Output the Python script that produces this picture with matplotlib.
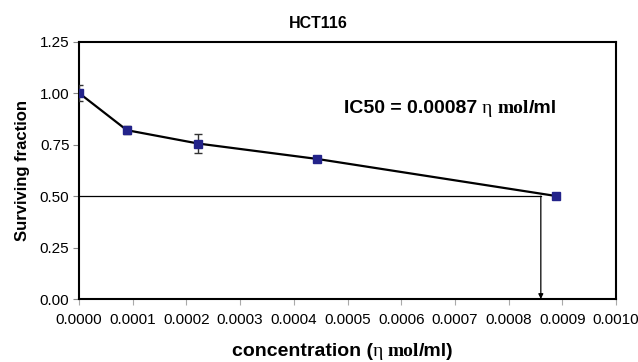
import matplotlib
matplotlib.use("Agg")
import matplotlib.pyplot as plt
from matplotlib.offsetbox import TextArea, HPacker, AnnotationBbox

# Data
conc = [0.0, 0.0000889, 0.000222, 0.000444, 0.000889]
surv = [1.00, 0.82, 0.755, 0.68, 0.50]
err = [0.04, 0.02, 0.045, 0.01, 0.012]
ic50_x = 0.00086
ic50_y = 0.50
xticks = [i * 0.0001 for i in range(11)]
yticks = [0.0, 0.25, 0.5, 0.75, 1.0, 1.25]

plt.rcParams['font.family'] = ['Liberation Sans', 'DejaVu Sans']

fig = plt.figure(figsize=(6.38, 3.62), dpi=100)
ax = fig.add_axes([0.124, 0.174, 0.8415, 0.711])

ax.plot([0, ic50_x], [ic50_y, ic50_y], color='black', lw=0.9, zorder=2)
ax.annotate('', xy=(ic50_x, 0.0), xytext=(ic50_x, ic50_y),
            arrowprops=dict(arrowstyle='-|>', color='black', lw=0.9,
                            mutation_scale=7, shrinkA=0, shrinkB=0), zorder=2)

ax.errorbar(conc, surv, yerr=err, color='black', lw=1.6, ecolor='#333333',
            elinewidth=1.0, capsize=3, capthick=1.0, marker='s', ms=6,
            mfc='#23238a', mec='#23238a', zorder=3)

ax.set_xlim(0, 0.001)
ax.set_ylim(0, 1.25)
ax.set_xticks(xticks)
ax.set_xticklabels([f"{v:.4f}" for v in xticks])
ax.set_yticks(yticks)
ax.set_yticklabels([f"{v:.2f}" for v in yticks])
ax.tick_params(axis='x', length=4, color='#aaaaaa', labelsize=11, pad=6)
ax.tick_params(axis='y', length=4, color='#888888', labelsize=11, pad=3)
for s in ax.spines.values():
    s.set_linewidth(1.5)

ax.set_ylabel('Surviving fraction', fontsize=12, fontweight='bold', labelpad=7)
fig.text(0.499, 0.936, 'HCT116', ha='center', va='center',
         fontsize=11.5, fontweight='bold')

def mixed(parts):
    areas = []
    for txt, fam, wt, sz in parts:
        areas.append(TextArea(txt, textprops=dict(family=fam, fontweight=wt, fontsize=sz)))
    return HPacker(children=areas, align='baseline', pad=0, sep=0)

ic_box = mixed([('IC50 = 0.00087 ', 'Liberation Sans', 'bold', 14),
                ('η ', 'Liberation Serif', 'normal', 14),
                ('mol', 'Liberation Serif', 'bold', 14),
                ('/ml', 'Liberation Sans', 'bold', 14)])
ab = AnnotationBbox(ic_box, (0.000493, 0.925), xycoords='data', frameon=False,
                    box_alignment=(0, 0.5))
ax.add_artist(ab)

xl_box = mixed([('concentration (', 'Liberation Sans', 'bold', 14),
                ('η ', 'Liberation Serif', 'normal', 14),
                ('mol', 'Liberation Serif', 'bold', 14),
                ('/ml)', 'Liberation Sans', 'bold', 14)])
ab2 = AnnotationBbox(xl_box, (0.537, 0.028), xycoords='figure fraction',
                     frameon=False, box_alignment=(0.5, 0.5))
fig.add_artist(ab2)

fig.savefig('out.png', dpi=100)
